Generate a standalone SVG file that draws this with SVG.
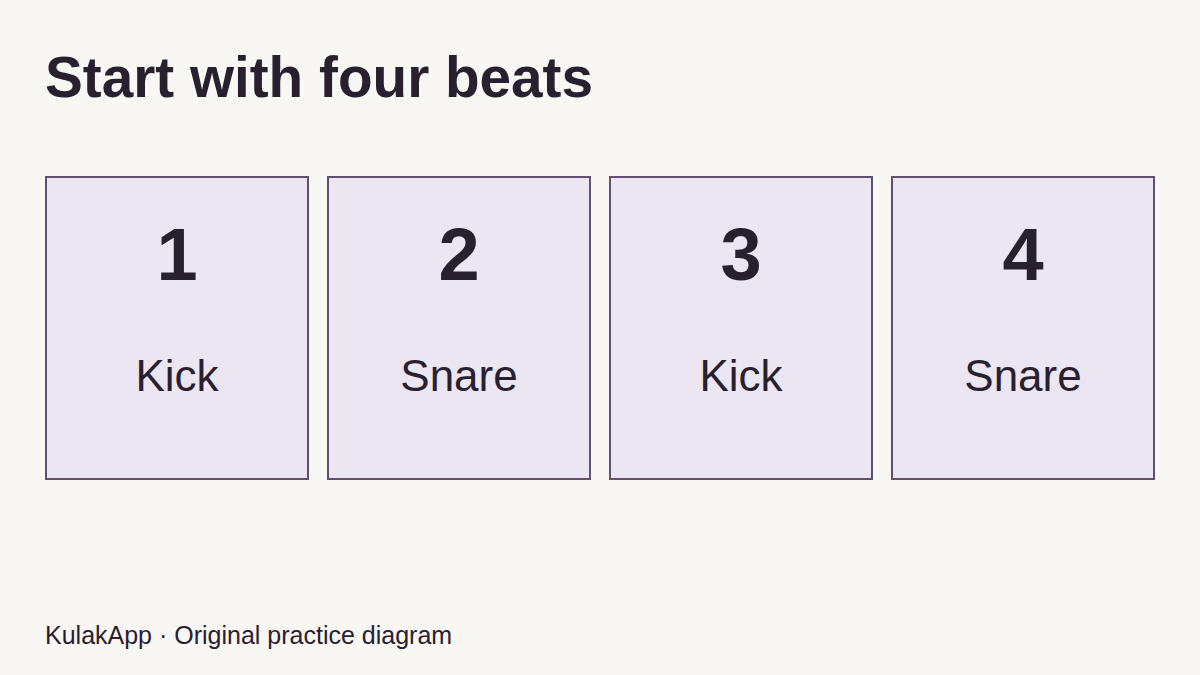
<svg xmlns="http://www.w3.org/2000/svg" width="1200" height="675" viewBox="0 0 1200 675">
<style>
.box{fill:#ece6f2;stroke:#5f5070;stroke-width:2}
.num{font-family:"Liberation Sans",Arial,sans-serif;font-weight:bold;font-size:74px;fill:#28202f;text-anchor:middle}
.lbl{font-family:"Liberation Sans",Arial,sans-serif;font-size:44px;fill:#28202f;text-anchor:middle}
.title{font-family:"Liberation Sans",Arial,sans-serif;font-weight:bold;font-size:56.7px;fill:#28202f}
.foot{font-family:"Liberation Sans",Arial,sans-serif;font-size:25px;fill:#28202f}
</style>
<rect width="1200" height="675" fill="#f9f7f3"/>
<text class="title" x="45" y="97">Start with four beats</text>
<g id="beat1"><rect class="box" x="46" y="177" width="262" height="302"/><text class="num" x="177" y="280">1</text><text class="lbl" x="177" y="391">Kick</text></g>
<g id="beat2"><rect class="box" x="328" y="177" width="262" height="302"/><text class="num" x="459" y="280">2</text><text class="lbl" x="459" y="391">Snare</text></g>
<g id="beat3"><rect class="box" x="610" y="177" width="262" height="302"/><text class="num" x="741" y="280">3</text><text class="lbl" x="741" y="391">Kick</text></g>
<g id="beat4"><rect class="box" x="892" y="177" width="262" height="302"/><text class="num" x="1023" y="280">4</text><text class="lbl" x="1023" y="391">Snare</text></g>
<g id="connectors"></g>
<text class="foot" x="45" y="644">KulakApp · Original practice diagram</text>
</svg>
